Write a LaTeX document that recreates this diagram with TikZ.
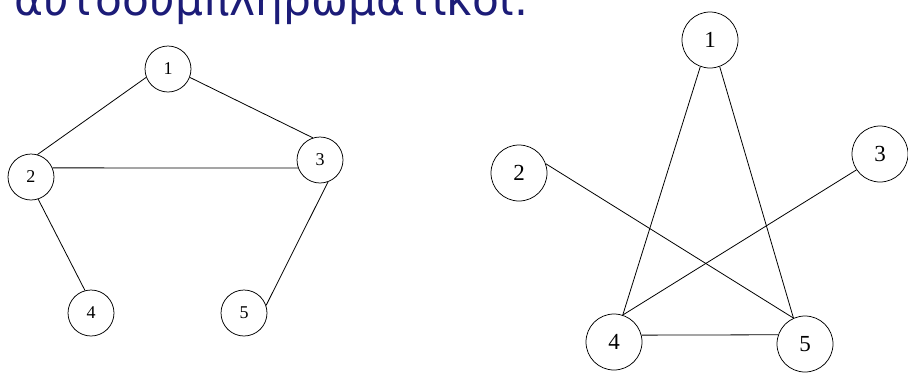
\documentclass[tikz,border=0pt]{standalone}
\usepackage{fontspec}
\setmainfont{Liberation Serif}
\newfontfamily\titlefont{DejaVu Sans}
\definecolor{titleblue}{RGB}{28,28,120}
\begin{document}
\begin{tikzpicture}[x=1pt,y=-1pt,
  vs/.style={circle,draw,line width=0.75pt,minimum size=46pt,inner sep=0pt,font=\fontsize{18}{18}\selectfont},
  vb/.style={circle,draw,line width=0.75pt,minimum size=56pt,inner sep=0pt,font=\fontsize{23}{23}\selectfont},
  edge/.style={line width=0.8pt}]
\useasboundingbox (0,0) rectangle (908,373);
\clip (0,0) rectangle (908,373);
\node[anchor=base west,inner sep=0pt,text=titleblue,font=\titlefont\fontsize{44}{44}\selectfont] (title) at (14,15) {αυτοσυμπληρωματικοί.};
% left graph
\node[vs] (a1) at (168,69) {1};
\node[vs] (a2) at (31,177) {2};
\node[vs] (a3) at (320,160) {3};
\node[vs] (a4) at (91,313) {4};
\node[vs] (a5) at (244,313) {5};
\draw[edge] (a1.201) -- (a2.74);
\draw[edge] (a1.339) -- (a3.108);
\draw[edge] (a2.23) -- (a3.200);
\draw[edge] (a2.288) -- (a4.105);
\draw[edge] (a3.290) -- (a5.19);
% right graph
\node[vb] (b1) at (710,40) {1};
\node[vb] (b2) at (519,173) {2};
\node[vb] (b3) at (880,154) {3};
\node[vb] (b4) at (614,342) {4};
\node[vb] (b5) at (805,344) {5};
\draw[edge] (b1.250) -- (b4.72);
\draw[edge] (b1.290) -- (b5.114);
\draw[edge] (b2.19) -- (b5.114);
\draw[edge] (b3.214) -- (b4.72);
\draw[edge] (b4.14) -- (b5.161);
\end{tikzpicture}
\end{document}
